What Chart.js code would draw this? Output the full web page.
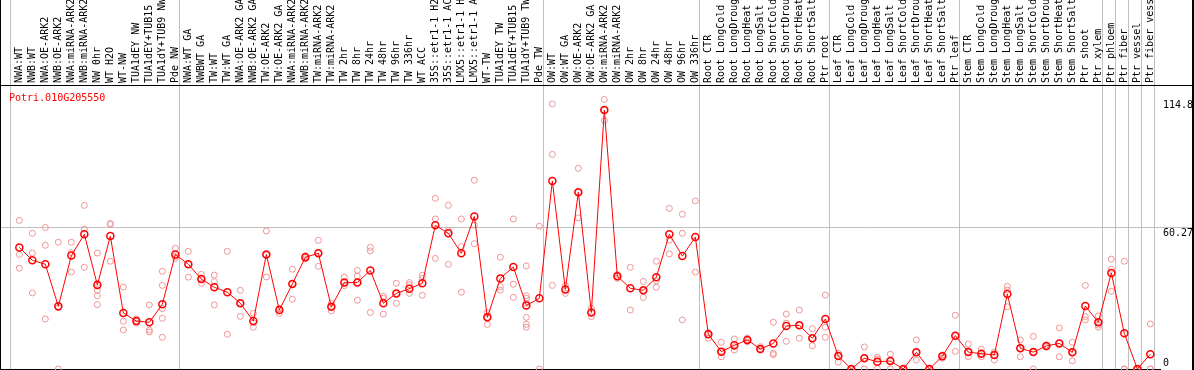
<!DOCTYPE html>
<html>
<head>
<meta charset="utf-8">
<script src="https://cdn.jsdelivr.net/npm/chart.js@4.4.0/dist/chart.umd.min.js"></script>
<style>
  html, body { margin: 0; padding: 0; background: #fff; }
  #wrap { position: relative; width: 1194px; height: 370px; overflow: hidden; }
  #frame { position: absolute; left: 0; top: 0; width: 1191px; height: 370px; border-left: 1px solid #000; border-right: 2px solid #000; }
  #canvas { position: absolute; left: 1px; top: 0; }
  #hline { position: absolute; left: 0; top: 85px; width: 1194px; height: 1px; background: #000; }
</style>
</head>
<body>
<div id="wrap">
  <div id="frame"></div>
  <canvas id="canvas" width="1191" height="370"></canvas>
  <div id="hline"></div>
</div>
<script>
var geneName = 'Potri.010G205550';

var categories = ['NWA:WT', 'NWB:WT', 'NWA:OE-ARK2', 'NWB:OE-ARK2', 'NWA:miRNA-ARK2', 'NWB:miRNA-ARK2', 'NW 0hr', 'WT H2O', 'WT-NW', 'TUA1dEY NW',
  'TUA1dEY+TUB15 NW', 'TUA1dY+TUB9 NW', 'Pde NW',
  'NWA:WT GA', 'NWBWT GA', 'TW:WT', 'TW:WT GA', 'NWA:OE-ARK2 GA', 'NWB:OE-ARK2 GA', 'TW:OE-ARK2', 'TW:OE-ARK2 GA', 'NWA:miRNA-ARK2 GA', 'NWB:miRNA-ARK2 GA',
  'TW:miRNA-ARK2', 'TW:miRNA-ARK2 GA', 'TW 2hr', 'TW 8hr', 'TW 24hr', 'TW 48hr', 'TW 96hr', 'TW 336hr', 'WT ACC', '35S::etr1-1 H2O', '35S::etr1-1 ACC',
  'LMX5::etr1-1 H2O', 'LMX5::etr1-1 ACC', 'WT-TW', 'TUA1dEY TW', 'TUA1dEY+TUB15 TW', 'TUA1dY+TUB9 TW', 'Pde TW',
  'OW:WT', 'OW:WT GA', 'OW:OE-ARK2', 'OW:OE-ARK2 GA', 'OW:miRNA-ARK2', 'OW:miRNA-ARK2 GA', 'OW 2hr', 'OW 8hr', 'OW 24hr', 'OW 48hr', 'OW 96hr', 'OW 336hr',
  'Root CTR', 'Root LongCold', 'Root LongDrought', 'Root LongHeat', 'Root LongSalt', 'Root ShortCold', 'Root ShortDrought', 'Root ShortHeat', 'Root ShortSalt', 'Ptr root',
  'Leaf CTR', 'Leaf LongCold', 'Leaf LongDrought', 'Leaf LongHeat', 'Leaf LongSalt', 'Leaf ShortCold', 'Leaf ShortDrought', 'Leaf ShortHeat', 'Leaf ShortSalt', 'Ptr leaf',
  'Stem CTR', 'Stem LongCold', 'Stem LongDrought', 'Stem LongHeat', 'Stem LongSalt', 'Stem ShortCold', 'Stem ShortDrought', 'Stem ShortHeat', 'Stem ShortSalt',
  'Ptr shoot', 'Ptr xylem', 'Ptr phloem', 'Ptr fiber', 'Ptr vessel', 'Ptr fiber vessel'];

// index of first sample in each group (last one closes the chart)
var groupStarts = [0, 13, 41, 53, 63, 73, 84, 85, 86, 87, 88];

var means = [51.8, 46.3, 44.6, 26.7, 48.3, 57.4, 35.8, 56.6, 23.9, 20.4,
  19.9, 27.6, 48.8, 44.6, 38.3, 34.8, 32.7, 28.0, 20.4, 48.8,
  25.1, 36.2, 47.6, 49.3, 26.5, 36.8, 36.8, 42.0, 28.0, 32.2,
  34.2, 36.5, 61.2, 57.8, 49.3, 65.0, 22.0, 38.6, 43.4, 27.1,
  30.1, 80.1, 33.9, 75.3, 24.1, 110.3, 39.5, 34.4, 33.5, 39.1,
  57.4, 48.1, 56.2, 14.8, 7.4, 10.1, 12.4, 8.5, 10.9, 18.3,
  18.6, 13.1, 21.3, 5.5, 0, 4.6, 3.1, 3.4, 0, 7.1,
  0, 5.4, 14.2, 7.2, 6.5, 6.0, 31.9, 8.8, 7.2, 9.8,
  10.9, 7.1, 26.8, 19.9, 40.9, 15.2, 0, 6.3];

var replicates = [
  [63.3, 48.8, 42.9], [57.8, 49.4, 32.4], [60.3, 52.7, 21.3], [54.0, 26.1, 0], [54.0, 49.6, 41.3],
  [69.7, 59.6, 43.3], [49.4, 36.5, 33.6, 31.2, 27.4], [62.0, 61.6, 45.9], [34.9, 20.3, 16.6], [21.3, 20.3, 19.5],
  [27.3, 16.6, 15.8], [41.6, 35.6, 25.7, 21.6, 13.5], [51.4, 48.0, 47.1], [50.1, 44.6, 39.1], [40.3, 38.3, 36.5],
  [40.0, 37.2, 27.3], [50.1, 14.8], [33.5, 28.0, 22.4], [23.7, 19.7, 17.8], [58.8, 48.5, 39.2],
  [25.9, 25.6, 23.7], [42.5, 36.4, 29.7], [48.3, 47.6, 46.9], [54.8, 49.3, 43.7], [28.1, 26.5, 24.8],
  [39.1, 36.8, 35.5], [42.0, 39.6, 36.8, 29.3], [51.8, 50.3, 24.1], [31.0, 30.1, 23.4], [36.5, 32.2, 28.0],
  [36.8, 35.9, 32.2], [39.9, 38.6, 31.4], [72.7, 63.9, 47.1], [69.7, 59.0, 44.6], [63.9, 52.1, 32.7],
  [80.4, 61.3, 53.4], [24.0, 22.0, 19.0], [47.6, 35.1, 33.6], [63.9, 36.1, 30.5], [43.9, 31.2, 30.1, 28.0, 22.0, 19.0, 17.8],
  [60.8, 0], [112.9, 91.4, 35.6], [35.6, 33.9, 32.2], [85.5, 75.3, 64.4], [25.9, 24.1, 22.3],
  [114.8, 110.3, 105.8], [40.3, 39.5, 38.6], [43.3, 25.1], [37.3, 33.5, 30.5], [45.9, 37.5, 34.8],
  [68.4, 54.9, 49.0], [65.9, 57.8, 20.9], [71.6, 41.3], [15.5, 14.8, 13.1], [11.4, 7.4, 5.2],
  [12.8, 9.5, 8.1], [13.2, 12.4, 11.6], [9.5, 8.5, 8.1], [19.9, 6.7, 6.1], [23.4, 19.5, 11.8],
  [25.1, 18.6, 13.1], [17.2, 13.1, 9.9], [31.5, 17.8, 13.5], [6.7, 5.5, 2.9], [0, 0, 0],
  [9.4, 4.6, 0], [5.0, 4.2, 0.2], [6.3, 3.4, 0], [0, 0, 0], [12.4, 7.1, 3.8],
  [0, 0, 0], [6.0, 5.4, 4.6], [22.9, 14.2, 7.5], [10.6, 7.2, 5.2], [8.4, 6.5, 5.2],
  [7.2, 6.0, 3.8], [35.2, 33.6, 26.5], [12.4, 8.8, 5.2], [13.9, 7.2, 0], [10.2, 9.8, 9.4],
  [17.5, 10.9, 5.2], [11.4, 7.1, 3.5], [35.6, 22.3, 20.9], [22.6, 19.9, 18.7, 17.8], [46.8, 42.5, 33.1],
  [45.9, 0, 0], [0, 0, 0], [19.2, 0, 0]];

var yTickValues = [0, 60.27, 114.8];
var yTickLabels = ['0', '60.27', '114.8'];

var xMin = -1.41, xMax = 87.744;
var yMax = 120.54;
var monoFont = { family: 'DejaVu Sans Mono', size: 10 };

var meanPoints = means.map(function(v, i) { return { x: i, y: v }; });
var repPoints = [];
replicates.forEach(function(list, i) {
  list.forEach(function(v) { repPoints.push({ x: i, y: v }); });
});

// x scales must not ask the layout for side padding
function fixX(h) {
  return function(s) { s.height = h; s.paddingLeft = 0; s.paddingRight = 0; };
}

var geneTitle = {
  id: 'geneTitle',
  afterDraw: function(chart) {
    var ctx = chart.ctx, area = chart.chartArea;
    ctx.save();
    ctx.font = '10px "DejaVu Sans Mono"';
    ctx.fillStyle = '#ff0000';
    ctx.textBaseline = 'alphabetic';
    ctx.fillText(geneName, area.left + 8, area.top + 15);
    ctx.restore();
  }
};

window.onload = function() {
  var ctx = document.getElementById('canvas').getContext('2d');
  window.myChart = new Chart(ctx, {
    data: {
      datasets: [{
        type: 'line',
        label: geneName,
        data: meanPoints,
        borderColor: '#ff0000',
        borderWidth: 1,
        tension: 0,
        pointRadius: 3.5,
        pointBorderWidth: 1.5,
        pointBorderColor: '#ff0000',
        pointBackgroundColor: 'rgba(0,0,0,0)',
        clip: 6,
        order: 1
      }, {
        type: 'scatter',
        label: 'replicates',
        data: repPoints,
        showLine: false,
        pointRadius: 3,
        pointBorderWidth: 1,
        pointBorderColor: '#f09494',
        pointBackgroundColor: 'rgba(0,0,0,0)',
        clip: 6,
        order: 2
      }]
    },
    options: {
      responsive: false,
      animation: false,
      layout: { padding: 0, autoPadding: false },
      plugins: { legend: { display: false }, tooltip: { enabled: false } },
      scales: {
        x: {
          type: 'linear', position: 'top', min: xMin, max: xMax, weight: 1,
          grid: { display: false, drawTicks: false }, border: { display: false },
          afterBuildTicks: function(s) { s.ticks = categories.map(function(c, i) { return { value: i }; }); },
          afterFit: fixX(86),
          ticks: {
            autoSkip: false, minRotation: 90, maxRotation: 90, padding: 3, labelOffset: 12,
            color: '#000', font: monoFont,
            callback: function(v) { return categories[v]; }
          }
        },
        xg: {
          type: 'linear', position: 'top', min: xMin, max: xMax, weight: 0,
          ticks: { display: false }, border: { display: false },
          grid: { color: '#c0c0c0', lineWidth: 1, drawTicks: true, tickLength: 86 },
          afterBuildTicks: function(s) { s.ticks = groupStarts.map(function(k) { return { value: k - 0.65 }; }); },
          afterFit: fixX(0)
        },
        xb: {
          type: 'linear', position: 'bottom', min: xMin, max: xMax,
          ticks: { display: false }, grid: { display: false },
          border: { display: true, color: '#000', width: 1 },
          afterFit: fixX(1)
        },
        y: {
          type: 'linear', position: 'right', min: 0, max: yMax,
          border: { display: false },
          grid: {
            drawTicks: true, tickLength: 34, lineWidth: 1,
            color: function(c) { return c.tick && c.tick.value === 60.27 ? '#c0c0c0' : 'rgba(0,0,0,0)'; }
          },
          afterBuildTicks: function(s) { s.ticks = yTickValues.map(function(v) { return { value: v }; }); },
          afterFit: function(s) { s.width = 32; },
          ticks: {
            padding: -31, color: '#000', font: monoFont,
            callback: function(v, i) { return v === 0 ? [yTickLabels[i], ''] : ['', yTickLabels[i]]; }
          }
        }
      }
    },
    plugins: [geneTitle]
  });
};
</script>
</body>
</html>
